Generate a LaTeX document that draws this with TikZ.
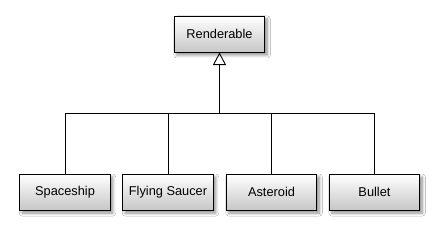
\documentclass[tikz,border=0pt]{standalone}
\usepackage{fontspec}
\setmainfont{Liberation Sans}
\usetikzlibrary{arrows.meta,shadows.blur}
\begin{document}
\begin{tikzpicture}[x=1pt,y=1pt,
  cls/.style={draw=black, line width=1pt, minimum width=90.5pt, minimum height=36pt,
    inner sep=0pt, top color=white, bottom color=black!22,
    blur shadow={shadow xshift=2.5pt, shadow yshift=-3pt, shadow blur steps=6, shadow blur radius=3pt, shadow opacity=45},
    font=\fontsize{12.8}{14}\selectfont},
  conn/.style={draw=black, line width=0.9pt}]
\useasboundingbox (0,0) rectangle (439,234);
\fill[white] (0,0) rectangle (439,234);
\node[cls] (r) at (219.5,200) {Renderable};
\node[cls] (s) at (65,42) {Spaceship};
\node[cls] (f) at (168,42) {Flying Saucer};
\node[cls] (a) at (271.5,42) {Asteroid};
\node[cls] (b) at (374.5,42) {Bullet};
\coordinate (hub) at (219.5,120.7);
\draw[conn] (s.north) |- (hub);
\draw[conn] (f.north) |- (hub);
\draw[conn] (a.north) |- (hub);
\draw[conn] (b.north) |- (hub);
\draw[conn,-{Triangle[open,width=13pt,length=12.5pt,line width=0.9pt]}] (hub) -- (r.south);
\end{tikzpicture}
\end{document}
